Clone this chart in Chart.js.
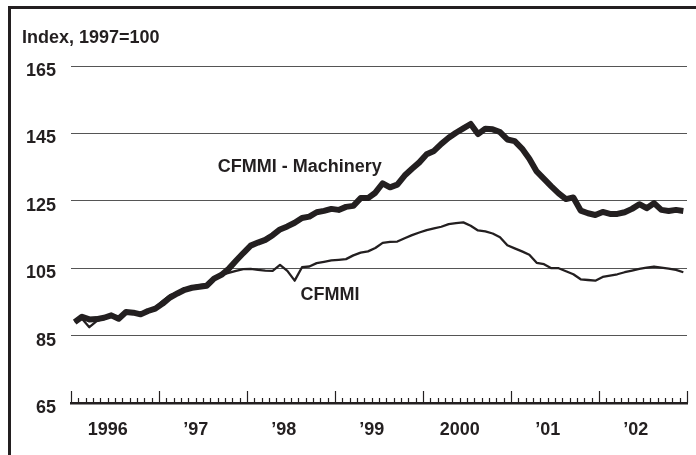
<!DOCTYPE html>
<html lang="en">
<head>
  <meta charset="UTF-8">
  <title>CFMMI</title>
  <script src="https://cdn.jsdelivr.net/npm/chart.js"></script>
  <style>
    html, body { margin: 0; padding: 0; background: #fff; }
    #wrap { width: 696px; height: 455px; }
  </style>
</head>
<body>
  <div id="wrap"><canvas id="chart" width="696" height="455"></canvas></div>

  <script>
    // monthly index, Jan 1996 - Dec 2002 (1997=100)
    const yearLabels = ["1996", "\u201997", "\u201998", "\u201999", "2000", "\u201901", "\u201902"];
    const machinery = [
      89.0, 90.6, 89.8, 89.9, 90.3, 91.0, 90.0, 92.0, 91.8, 91.3, 92.3, 93.0,
      94.5, 96.3, 97.5, 98.6, 99.2, 99.5, 99.8, 101.9, 103.0, 104.8, 107.2, 109.5,
      111.7, 112.6, 113.4, 114.8, 116.5, 117.4, 118.5, 119.9, 120.3, 121.6, 122.0, 122.6,
      122.3, 123.2, 123.5, 125.8, 125.8, 127.4, 130.2, 129.0, 129.8, 132.5, 134.5, 136.4,
      138.8, 139.8, 141.9, 143.7, 145.2, 146.5, 147.8, 144.8, 146.4, 146.2, 145.4, 143.2,
      142.7, 140.5, 137.5, 133.7, 131.5, 129.3, 127.2, 125.5, 126.0, 122.1, 121.3, 120.8,
      121.7, 121.1, 121.1, 121.6, 122.6, 124.0, 122.8, 124.3, 122.3, 122.0, 122.3, 122.0
    ];
    const cfmmi = [
      89.0, 90.0, 87.5, 89.3, 90.0, 90.8, 90.3, 91.8, 91.5, 91.0, 92.0, 93.3,
      95.3, 97.0, 97.8, 98.8, 99.5, 100.0, 100.3, 102.2, 103.0, 103.6, 104.2, 104.7,
      104.8, 104.5, 104.3, 104.2, 106.0, 104.2, 101.3, 105.3, 105.5, 106.5, 106.9, 107.3,
      107.5, 107.7, 108.8, 109.6, 110.0, 111.0, 112.5, 112.8, 112.9, 113.9, 114.8, 115.6,
      116.3, 116.8, 117.3, 118.1, 118.4, 118.6, 117.6, 116.2, 115.9, 115.3, 114.2, 111.8,
      110.9, 110.0, 109.0, 106.6, 106.2, 105.0, 105.0, 104.1, 103.2, 101.7, 101.5, 101.3,
      102.4, 102.8, 103.2, 103.8, 104.3, 104.8, 105.2, 105.5, 105.2, 104.9, 104.5, 103.8
    ];
    const yTicks = [65, 85, 105, 125, 145, 165];

    // series labels sit at (month, index value)
    const machineryLabel = { text: "CFMMI - Machinery", month: 20.0, value: 133.5 };
    const cfmmiLabel = { text: "CFMMI", month: 31.3, value: 95.6 };

    const ink = "#231f20";
    const font = "bold 18px 'Liberation Sans', Arial, sans-serif";
    const toPoints = arr => arr.map((v, i) => ({ x: i + 0.5, y: v }));

    // frame, title, month ticks and series labels
    const decorations = {
      id: "decorations",
      beforeDraw(chart) {
        const ctx = chart.ctx;
        ctx.save();
        ctx.fillStyle = "#fff";
        ctx.fillRect(0, 0, chart.width, chart.height);
        ctx.strokeStyle = ink;
        ctx.lineWidth = 3;
        ctx.beginPath();
        ctx.moveTo(9.5, chart.height);
        ctx.lineTo(9.5, 7.5);
        ctx.lineTo(chart.width, 7.5);
        ctx.stroke();
        ctx.restore();
      },
      afterDraw(chart) {
        const ctx = chart.ctx;
        const x = chart.scales.x, y = chart.scales.y;
        const base = y.getPixelForValue(yTicks[0]);
        ctx.save();
        ctx.strokeStyle = ink;
        ctx.lineWidth = 1.2;
        for (let m = 0; m <= machinery.length; m++) {
          const px = Math.round(x.getPixelForValue(m)) + 0.5;
          ctx.beginPath();
          ctx.moveTo(px, base);
          ctx.lineTo(px, base - (m % 12 === 0 ? 12 : 5));
          ctx.stroke();
        }
        ctx.fillStyle = ink;
        ctx.font = font;
        ctx.textBaseline = "alphabetic";
        ctx.fillText("Index, 1997=100", 22, 43);
        [machineryLabel, cfmmiLabel].forEach(l => {
          ctx.fillText(l.text, x.getPixelForValue(l.month), y.getPixelForValue(l.value));
        });
        ctx.restore();
      }
    };

    new Chart(document.getElementById("chart"), {
      type: "line",
      data: {
        datasets: [
          {
            label: "CFMMI - Machinery",
            data: toPoints(machinery),
            borderColor: ink,
            borderWidth: 6,
            pointRadius: 0,
            tension: 0,
            borderJoinStyle: "round"
          },
          {
            label: "CFMMI",
            data: toPoints(cfmmi),
            borderColor: ink,
            borderWidth: 2.3,
            pointRadius: 0,
            tension: 0,
            borderJoinStyle: "round"
          }
        ]
      },
      options: {
        responsive: false,
        animation: false,
        layout: { padding: { top: 66, right: 9, left: 0, bottom: 0 } },
        plugins: {
          legend: { display: false },
          tooltip: { enabled: false }
        },
        scales: {
          x: {
            type: "linear",
            min: 0,
            max: machinery.length,
            afterFit: s => { s.height = 52; },
            afterBuildTicks: s => { s.ticks = yearLabels.map((_, k) => ({ value: 5 + 12 * k })); },
            grid: { display: false, drawTicks: false },
            border: { display: true, color: ink, width: 2.5 },
            ticks: {
              autoSkip: false,
              maxRotation: 0,
              padding: 16,
              color: ink,
              font: { family: "'Liberation Sans', Arial, sans-serif", size: 18, weight: "bold" },
              callback: (v, i) => yearLabels[i]
            }
          },
          y: {
            min: yTicks[0],
            max: yTicks[yTicks.length - 1],
            afterFit: s => { s.width = 71; },
            afterBuildTicks: s => { s.ticks = yTicks.map(v => ({ value: v })); },
            grid: { color: "#555", lineWidth: 1, drawTicks: false },
            border: { display: false },
            ticks: {
              padding: 15,
              labelOffset: 5,
              color: ink,
              font: { family: "'Liberation Sans', Arial, sans-serif", size: 18, weight: "bold" }
            }
          }
        }
      },
      plugins: [decorations]
    });
  </script>
</body>
</html>
